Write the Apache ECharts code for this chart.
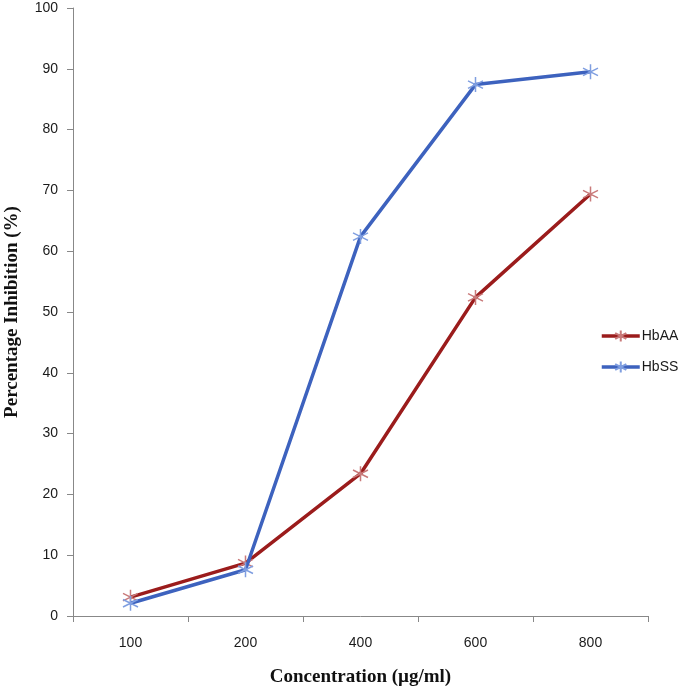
<!DOCTYPE html>
<html><head><meta charset="utf-8">
<script src="https://cdn.jsdelivr.net/npm/echarts@6/dist/echarts.min.js"></script>
<style>html,body{margin:0;padding:0;background:#fff}#c{width:680px;height:688px}</style>
</head><body><div id="c"></div>
<script>
const categories = ['100','200','400','600','800'];
const hbAA = [3.1, 8.7, 23.4, 52.4, 69.4];
const hbSS = [2.1, 7.6, 62.4, 87.4, 89.5];
const yTicks = {min:0, max:100, interval:10};

const star = 'path://M0,-10 L0,10 M-8.66,-5 L8.66,5 M-8.66,5 L8.66,-5';
const chart = echarts.init(document.getElementById('c'));
const labelFont = {fontFamily:'Liberation Sans, Arial, sans-serif', fontSize:14, color:'#1a1a1a'};
chart.setOption({
  animation:false,
  grid:{left:73, right:32, top:8, bottom:72, containLabel:false, outerBoundsMode:'none'},
  legend:{
    left:595, top:324, orient:'vertical', itemGap:17,
    itemWidth:38, itemHeight:14,
    lineStyle:{width:3.5},
    textStyle:{fontFamily:'Liberation Sans, Arial, sans-serif', fontSize:14, color:'#1a1a1a', padding:[0,0,0,-3]},
    data:['HbAA','HbSS']
  },
  xAxis:{
    type:'category', data:categories, boundaryGap:true,
    axisLine:{lineStyle:{color:'#888', width:1}},
    axisTick:{show:true, alignWithLabel:false, length:6, lineStyle:{color:'#888'}},
    axisLabel:Object.assign({margin:20}, labelFont),
    name:'Concentration (µg/ml)', nameLocation:'middle', nameGap:52,
    nameTextStyle:{fontFamily:'Liberation Serif, Times New Roman, serif', fontWeight:'bold', fontSize:19, color:'#111'}
  },
  yAxis:{
    type:'value', min:yTicks.min, max:yTicks.max, interval:yTicks.interval,
    splitLine:{show:false},
    axisLine:{show:true, lineStyle:{color:'#888', width:1}},
    axisTick:{show:true, length:6, lineStyle:{color:'#888'}},
    axisLabel:Object.assign({margin:15}, labelFont),
    name:'Percentage Inhibition (%)', nameLocation:'middle', nameGap:51, nameRotate:90,
    nameTextStyle:{fontFamily:'Liberation Serif, Times New Roman, serif', fontWeight:'bold', fontSize:19, color:'#111'}
  },
  series:[
    {name:'HbAA', type:'line', data:hbAA, symbol:star, symbolSize:15,
     lineStyle:{color:'#9b1c1c', width:3.5},
     itemStyle:{color:'rgba(0,0,0,0)', borderColor:'#c97a7a', borderWidth:1.5},
     z:2},
    {name:'HbSS', type:'line', data:hbSS, symbol:star, symbolSize:15,
     lineStyle:{color:'#3d62be', width:3.5},
     itemStyle:{color:'rgba(0,0,0,0)', borderColor:'#7f9ee0', borderWidth:1.5},
     z:3}
  ]
});
</script></body></html>
